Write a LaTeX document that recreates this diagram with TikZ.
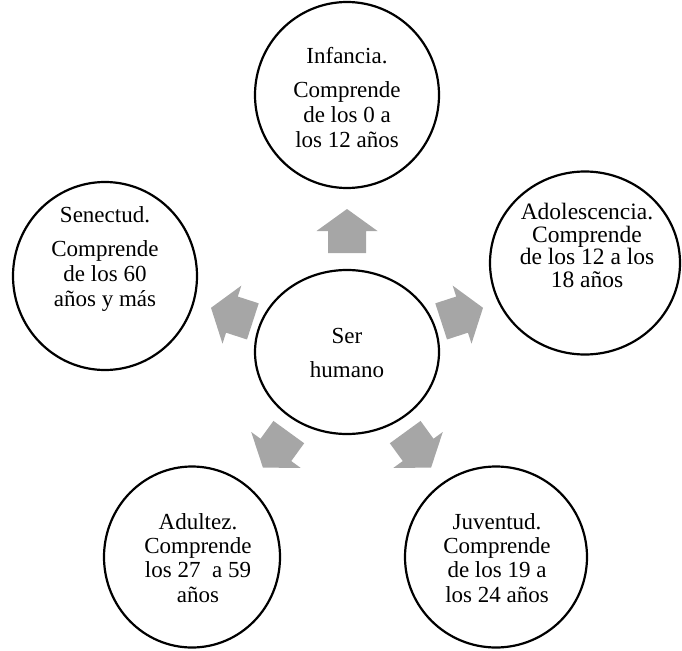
\documentclass[tikz,border=0pt]{standalone}
\usepackage{fontspec}
\setmainfont{Liberation Serif}
\usetikzlibrary{shapes.geometric,calc}

\definecolor{grisflecha}{RGB}{166,166,166}

\tikzset{
  etapa/.style={draw, ellipse, line width=2.2pt, inner sep=0pt},
  texto/.style={anchor=north, align=center, inner sep=0pt, font=\fontsize{23}{25}\selectfont},
  flecha/.style={fill=grisflecha}
}

\begin{document}
\begin{tikzpicture}[x=1pt,y=-1pt]
\useasboundingbox (0,0) rectangle (682,650);
%Shape: Circle [ser humano]
\node[etapa, minimum width=184, minimum height=164] (ser) at (347,352) {};
%Shape: Circle [infancia]
\node[etapa, minimum width=184, minimum height=186] (infancia) at (347,95) {};
%Shape: Circle [adolescencia]
\node[etapa, minimum width=190, minimum height=183] (adolescencia) at (585,263) {};
%Shape: Circle [juventud]
\node[etapa, minimum width=182, minimum height=181] (juventud) at (496,557) {};
%Shape: Circle [adultez]
\node[etapa, minimum width=176, minimum height=181] (adultez) at (192,557) {};
%Shape: Circle [senectud]
\node[etapa, minimum width=184, minimum height=188] (senectud) at (105,276) {};
%Block Arrows
\foreach \ang in {90,18,-54,-126,162}{
  \begin{scope}[shift={($(ser.center)+(-\ang:121)$)}, rotate=\ang]
    \fill[flecha] (-22,-19) -- (0,-19) -- (0,-30.5) -- (22,0) -- (0,30.5) -- (0,19) -- (-22,19) -- cycle;
  \end{scope}
}
% Text Node
\node[texto] (ser-txt) at (347,328) {Ser\\[9pt]humano};
% Text Node
\node[texto] (infancia-txt) at (347,47) {Infancia.\\[9pt]Comprende\\de los 0 a\\los 12 años};
% Text Node
\node[texto, font=\fontsize{23.5}{22.5}\selectfont] (adolescencia-txt) at (587,203) {Adolescencia.\\Comprende\\de los 12 a los\\18 años};
% Text Node
\node[texto, font=\fontsize{23}{24.3}\selectfont] (juventud-txt) at (497,513) {Juventud.\\Comprende\\de los 19 a\\los 24 años};
% Text Node
\node[texto, font=\fontsize{23}{24.3}\selectfont] (adultez-txt) at (198,513) {Adultez.\\Comprende\\los 27~ a 59\\años};
% Text Node
\node[texto] (senectud-txt) at (105,206) {Senectud.\\[9pt]Comprende\\de los 60\\años y más};
\end{tikzpicture}
\end{document}
